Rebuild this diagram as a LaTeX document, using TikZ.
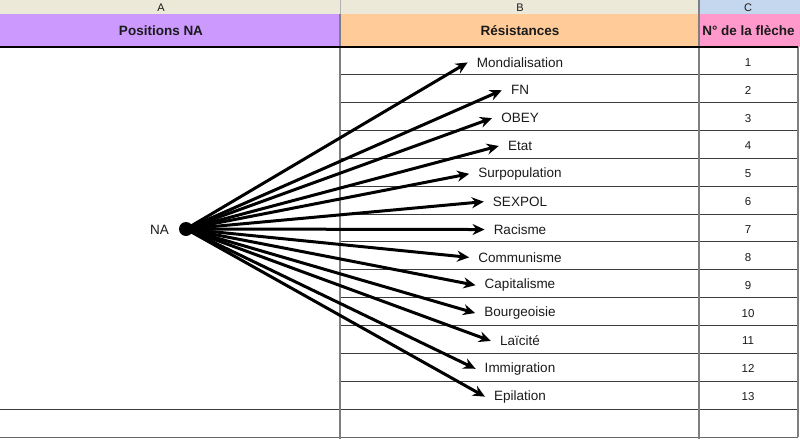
\documentclass[tikz,border=0pt]{standalone}
\usepackage{fontspec}
\setmainfont{Liberation Sans}
\usetikzlibrary{arrows.meta}
\definecolor{hdr}{HTML}{ECE9D8}
\definecolor{hdrSel}{HTML}{C5D6EF}
\definecolor{colA}{HTML}{CC99FF}
\definecolor{colB}{HTML}{FFCC99}
\definecolor{colC}{HTML}{FF99CC}
\definecolor{grid}{HTML}{7F7F7F}
\definecolor{ink}{HTML}{1A1A1A}
\tikzset{>=Stealth,
  letter/.style={font=\fontsize{11}{13}\selectfont,text=ink,inner sep=0pt},
  head/.style={font=\fontsize{13.5}{15}\selectfont\bfseries,text=ink,inner sep=0pt},
  lab/.style={font=\fontsize{13.5}{15}\selectfont,text=ink,inner xsep=9pt,inner ysep=2pt},
  num/.style={font=\fontsize{11.5}{13}\selectfont,text=ink,inner sep=0pt},
  row/.style={draw=ink!85,line width=1pt},
  sep/.style={draw=grid,line width=2pt},
  fleche/.style={draw=black,line width=3pt,-{Stealth[length=12pt,width=11pt]}},
  pt/.style={circle,fill=black,inner sep=0pt,minimum size=14pt}}

\begin{document}
\begin{tikzpicture}[x=1pt,y=-1pt]
  \useasboundingbox (0,0) rectangle (800,439);
  % en-tetes
  \fill[hdr] (0,0) rectangle (699,14);
  \fill[hdrSel] (699,0) rectangle (800,14);
  \fill[colA] (0,14) rectangle (340,47);
  \fill[colB] (340,14) rectangle (699,47);
  \fill[colC] (699,14) rectangle (800,47);
  \draw[draw=grid!60,line width=1pt] (340,0) -- (340,14);
  \node[letter] (la) at (161,8) {A};
  \node[letter] (lb) at (520,8) {B};
  \node[letter] (lc) at (748,8) {C};
  \node[head] (ha) at (161,31) {Positions NA};
  \node[head] (hb) at (520,31) {Résistances};
  \node[head] (hc) at (748.5,31) {N° de la flèche};
  % grille
  \foreach \k in {1,...,13}
    \draw[row] (340,{47+27.85*\k}) -- (798,{47+27.85*\k});
  \draw[row] (0,409) -- (340,409);
  \draw[row,draw=grid!80!black] (0,437) -- (798,437);
  \draw[sep] (340,14) -- (340,439);
  \draw[sep] (699,0) -- (699,439);
  \draw[sep] (798,47) -- (798,437);
  \draw[draw=black,line width=1.6pt] (0,47) -- (798,47);
  % positions et fleches
  \node[pt] (na) at (186,229) {};
  \node[lab,anchor=east,inner xsep=0pt] (tna) at (169,230) {NA};
  \foreach \t [count=\i] in {Mondialisation,FN,OBEY,Etat,Surpopulation,SEXPOL,
      Racisme,Communisme,Capitalisme,Bourgeoisie,Laïcité,Immigration,Epilation} {
    \node[lab] (r\i) at (520,{48.5+27.85*(\i-0.5)}) {\t};
    \node[num] (n\i) at (748,{48.5+27.85*(\i-0.5)}) {\i};
    \draw[fleche] (na.center) -- (r\i.west);
  }
\end{tikzpicture}
\end{document}
